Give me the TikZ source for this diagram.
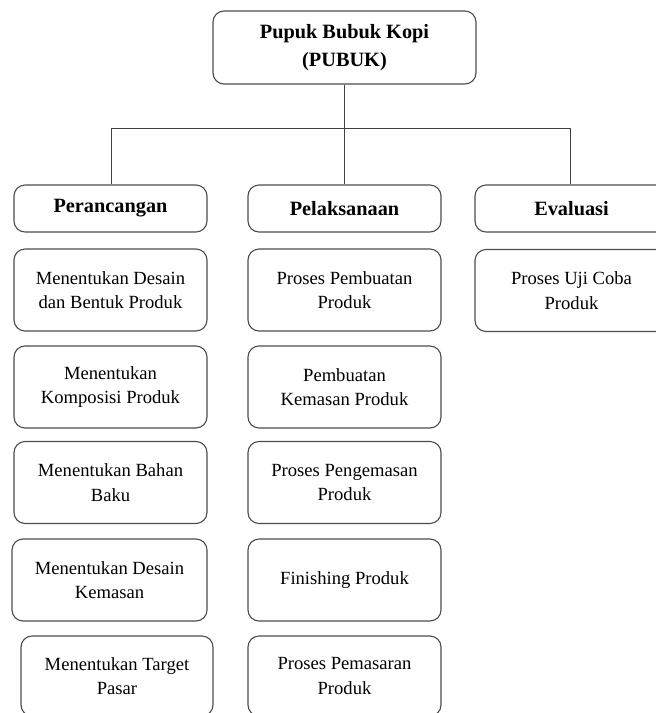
\documentclass[tikz,border=0pt]{standalone}
\usepackage{fontspec}
\setmainfont{Liberation Serif}
\begin{document}
\begin{tikzpicture}[x=1pt,y=-1pt,
  box/.style={draw=black!70, line width=1.1pt, rounded corners=11pt, align=center, inner sep=0pt,
    font=\fontsize{18.6}{24.5}\selectfont, text=black},
  headbox/.style={box, minimum width=193pt, minimum height=47pt, font=\bfseries\fontsize{20.3}{24}\selectfont},
  itembox/.style={box, minimum width=193pt, minimum height=82pt},
  conn/.style={draw=black!75, line width=0.9pt}]
\clip (0,0) rectangle (656,713);
\fill[white] (0,0) rectangle (656,713);
% title
\node[box, minimum width=263pt, minimum height=73pt, font=\bfseries\fontsize{20.3}{28}\selectfont] (top) at (344.5,47.5) {Pupuk Bubuk Kopi\\(PUBUK)};
% level 2
\node[headbox] (per) at (110.5,208.5) {Perancangan};
\node[headbox] (pel) at (344.5,208.5) {Pelaksanaan};
\node[headbox] (eva) at (571.5,208.5) {Evaluasi};
% left column
\node[itembox] (l1) at (110.5,290) {Menentukan Desain\\dan Bentuk Produk};
\node[itembox] (l2) at (110.5,387) {Menentukan\\Komposisi Produk};
\node[itembox] (l3) at (110.5,482.5) {Menentukan Bahan\\Baku};
\node[itembox, minimum width=195pt] (l4) at (109.5,580) {Menentukan Desain\\Kemasan};
\node[itembox, minimum width=192pt, minimum height=80pt] (l5) at (117,676) {Menentukan Target\\Pasar};
% middle column
\node[itembox] (m1) at (344.5,290) {Proses Pembuatan\\Produk};
\node[itembox] (m2) at (344.5,387) {Pembuatan\\Kemasan Produk};
\node[itembox] (m3) at (344.5,482.5) {Proses Pengemasan\\Produk};
\node[itembox] (m4) at (344.5,580) {Finishing Produk};
\node[itembox, minimum height=80pt] (m5) at (344.5,676) {Proses Pemasaran\\Produk};
% right column
\node[itembox] (r1) at (571.5,290.5) {Proses Uji Coba\\Produk};
% connectors
\coordinate (busL) at (111,128);
\coordinate (busR) at (570,128);
\draw[conn] (busL) -- (busR);
\draw[conn] (top.south) -- (pel.north);
\draw[conn] (busL) -- (busL |- per.north);
\draw[conn] (busR) -- (busR |- eva.north);
\end{tikzpicture}
\end{document}
